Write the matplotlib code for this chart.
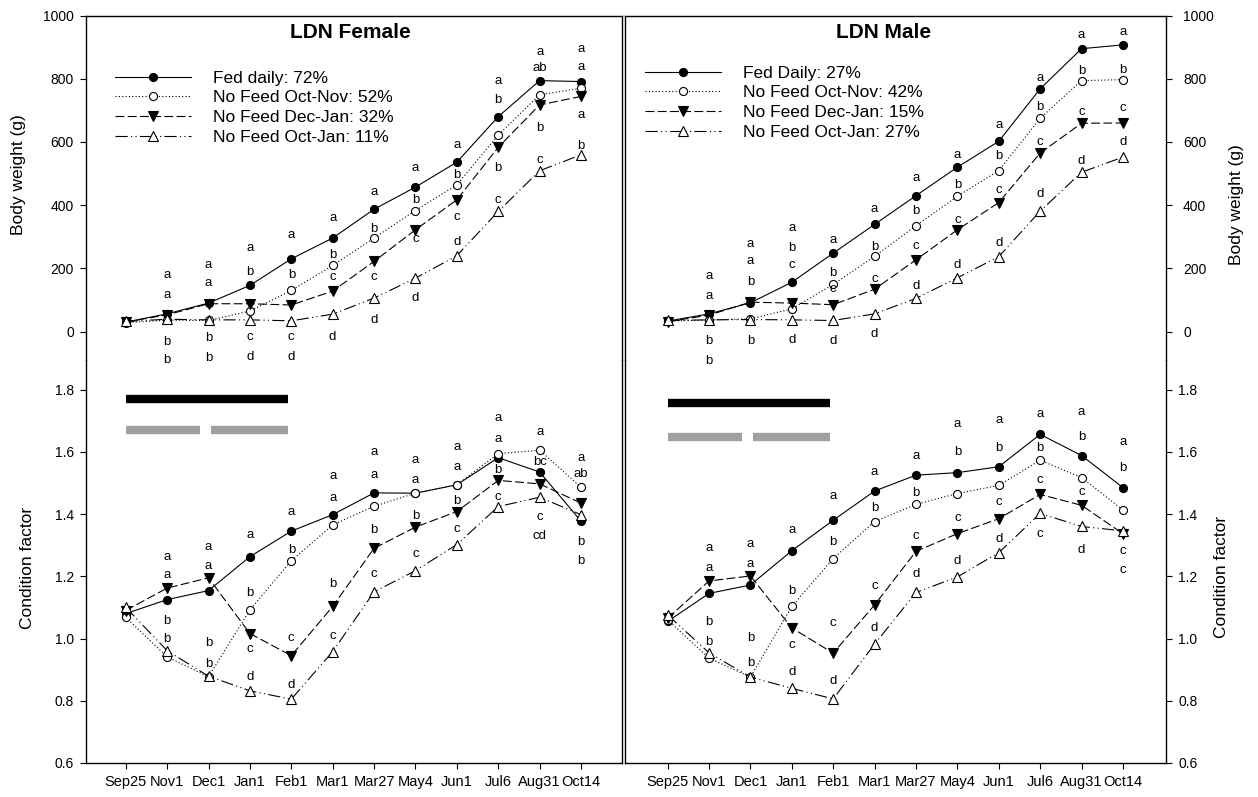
import matplotlib.pyplot as plt

plt.rcParams['font.family'] = ['Liberation Sans', 'DejaVu Sans']

dates = ['Sep25', 'Nov1', 'Dec1', 'Jan1', 'Feb1', 'Mar1', 'Mar27',
         'May4', 'Jun1', 'Jul6', 'Aug31', 'Oct14']

# body weight (g)
fem_bw_fed    = [30, 56, 90, 146, 230, 296, 387, 457, 536, 680, 794, 791]
fem_bw_octnov = [28, 36, 35, 65, 130, 209, 296, 383, 464, 622, 749, 770]
fem_bw_decjan = [30, 53, 88, 88, 84, 128, 222, 322, 417, 583, 717, 744]
fem_bw_octjan = [32, 39, 37, 37, 34, 55, 106, 169, 240, 380, 509, 559]

male_bw_fed    = [33, 56, 91, 156, 248, 339, 430, 520, 602, 768, 895, 907]
male_bw_octnov = [33, 37, 40, 72, 149, 238, 335, 428, 509, 675, 794, 797]
male_bw_decjan = [31, 52, 93, 90, 85, 134, 227, 322, 408, 565, 659, 660]
male_bw_octjan = [35, 37, 38, 37, 35, 56, 105, 170, 237, 381, 504, 552]

# condition factor
fem_cf_fed    = [1.080, 1.125, 1.154, 1.263, 1.345, 1.398, 1.468, 1.467, 1.494, 1.581, 1.535, 1.377]
fem_cf_octnov = [1.068, 0.941, 0.877, 1.092, 1.250, 1.365, 1.425, 1.467, 1.494, 1.594, 1.605, 1.486]
fem_cf_decjan = [1.090, 1.162, 1.195, 1.016, 0.945, 1.103, 1.290, 1.358, 1.408, 1.508, 1.497, 1.435]
fem_cf_octjan = [1.100, 0.961, 0.879, 0.832, 0.805, 0.958, 1.150, 1.218, 1.302, 1.424, 1.454, 1.398]

male_cf_fed    = [1.055, 1.145, 1.172, 1.282, 1.380, 1.474, 1.525, 1.533, 1.552, 1.656, 1.588, 1.485]
male_cf_octnov = [1.060, 0.937, 0.876, 1.103, 1.257, 1.376, 1.431, 1.466, 1.492, 1.573, 1.517, 1.413]
male_cf_decjan = [1.065, 1.185, 1.201, 1.034, 0.953, 1.108, 1.280, 1.337, 1.385, 1.463, 1.428, 1.337]
male_cf_octjan = [1.076, 0.954, 0.876, 0.840, 0.806, 0.982, 1.148, 1.198, 1.276, 1.402, 1.360, 1.346]

fem_labels = ['Fed daily: 72%', 'No Feed Oct-Nov: 52%',
              'No Feed Dec-Jan: 32%', 'No Feed Oct-Jan: 11%']
male_labels = ['Fed Daily: 27%', 'No Feed Oct-Nov: 42%',
               'No Feed Dec-Jan: 15%', 'No Feed Oct-Jan: 27%']

# significance letters: (date index, y, letter)
fem_bw_letters = [
    (1, 179, 'a'), (1, 116, 'a'), (1, -33, 'b'), (1, -90, 'b'),
    (2, 211, 'a'), (2, 154, 'a'), (2, -20, 'b'), (2, -83, 'b'),
    (3, 265, 'a'), (3, 189, 'b'), (3, -17, 'c'), (3, -80, 'd'),
    (4, 306, 'a'), (4, 179, 'b'), (4, -17, 'c'), (4, -80, 'd'),
    (5, 360, 'a'), (5, 243, 'b'), (5, 173, 'c'), (5, -17, 'd'),
    (6, 442, 'a'), (6, 325, 'b'), (6, 173, 'c'), (6, 37, 'd'),
    (7, 518, 'a'), (7, 417, 'b'), (7, 293, 'c'), (7, 107, 'd'),
    (8, 591, 'a'), (8, 496, 'b'), (8, 363, 'c'), (8, 284, 'd'),
    (9, 793, 'a'), (9, 733, 'b'), (9, 518, 'b'), (9, 417, 'c'),
    (10, 885, 'a'), (10, 835, 'ab'), (10, 645, 'b'), (10, 543, 'c'),
    (11, 895, 'a'), (11, 838, 'a'), (11, 685, 'a'), (11, 587, 'b'),
]
male_bw_letters = [
    (1, 177, 'a'), (1, 114, 'a'), (1, -31, 'b'), (1, -92, 'b'),
    (2, 277, 'a'), (2, 222, 'a'), (2, 158, 'b'), (2, -31, 'b'),
    (3, 328, 'a'), (3, 265, 'b'), (3, 209, 'c'), (3, -28, 'd'),
    (4, 290, 'a'), (4, 184, 'b'), (4, 135, 'c'), (4, -31, 'd'),
    (5, 388, 'a'), (5, 269, 'b'), (5, 167, 'c'), (5, -7, 'd'),
    (6, 485, 'a'), (6, 381, 'b'), (6, 270, 'c'), (6, 143, 'd'),
    (7, 560, 'a'), (7, 465, 'b'), (7, 354, 'c'), (7, 211, 'd'),
    (8, 655, 'a'), (8, 555, 'b'), (8, 449, 'c'), (8, 281, 'd'),
    (9, 803, 'a'), (9, 710, 'b'), (9, 599, 'c'), (9, 434, 'd'),
    (10, 939, 'a'), (10, 824, 'b'), (10, 694, 'c'), (10, 541, 'd'),
    (11, 949, 'a'), (11, 829, 'b'), (11, 708, 'c'), (11, 599, 'd'),
]
fem_cf_letters = [
    (1, 1.261, 'a'), (1, 1.205, 'a'), (1, 1.057, 'b'), (1, 0.998, 'b'),
    (2, 1.293, 'a'), (2, 1.234, 'a'), (2, 0.987, 'b'), (2, 0.918, 'b'),
    (3, 1.334, 'a'), (3, 1.146, 'b'), (3, 0.966, 'c'), (3, 0.875, 'd'),
    (4, 1.406, 'a'), (4, 1.285, 'b'), (4, 1.003, 'c'), (4, 0.850, 'd'),
    (5, 1.522, 'a'), (5, 1.452, 'a'), (5, 1.175, 'b'), (5, 1.009, 'c'),
    (6, 1.599, 'a'), (6, 1.526, 'a'), (6, 1.349, 'b'), (6, 1.207, 'c'),
    (7, 1.575, 'a'), (7, 1.510, 'a'), (7, 1.393, 'b'), (7, 1.272, 'c'),
    (8, 1.617, 'a'), (8, 1.551, 'a'), (8, 1.441, 'b'), (8, 1.352, 'c'),
    (9, 1.709, 'a'), (9, 1.640, 'a'), (9, 1.542, 'b'), (9, 1.454, 'c'),
    (10, 1.663, 'a'), (10, 1.567, 'bc'), (10, 1.389, 'c'), (10, 1.328, 'cd'),
    (11, 1.581, 'a'), (11, 1.529, 'ab'), (11, 1.309, 'b'), (11, 1.248, 'b'),
]
male_cf_letters = [
    (1, 1.290, 'a'), (1, 1.228, 'a'), (1, 1.052, 'b'), (1, 0.990, 'b'),
    (2, 1.305, 'a'), (2, 1.239, 'a'), (2, 1.001, 'b'), (2, 0.922, 'b'),
    (3, 1.348, 'a'), (3, 1.153, 'b'), (3, 0.979, 'c'), (3, 0.892, 'd'),
    (4, 1.458, 'a'), (4, 1.311, 'b'), (4, 1.050, 'c'), (4, 0.865, 'd'),
    (5, 1.535, 'a'), (5, 1.421, 'b'), (5, 1.169, 'c'), (5, 1.033, 'd'),
    (6, 1.588, 'a'), (6, 1.469, 'b'), (6, 1.328, 'c'), (6, 1.207, 'd'),
    (7, 1.688, 'a'), (7, 1.599, 'b'), (7, 1.386, 'c'), (7, 1.250, 'd'),
    (8, 1.702, 'a'), (8, 1.612, 'b'), (8, 1.439, 'c'), (8, 1.321, 'd'),
    (9, 1.722, 'a'), (9, 1.613, 'b'), (9, 1.509, 'c'), (9, 1.337, 'c'),
    (10, 1.727, 'a'), (10, 1.647, 'b'), (10, 1.471, 'c'), (10, 1.285, 'd'),
    (11, 1.631, 'a'), (11, 1.548, 'b'), (11, 1.282, 'c'), (11, 1.221, 'c'),
]

# feeding-withdrawal periods (date index start, end)
black_period = [(0.0, 3.92)]
grey_periods = [(0.0, 1.8), (2.07, 3.92)]

W, H = 1258, 797
fig = plt.figure(figsize=(W / 100, H / 100), dpi=100)


def px_rect(x0, x1, y0, y1):
    return [x0 / W, 1 - y1 / H, (x1 - x0) / W, (y1 - y0) / H]


LW = 0.8
series_style = [
    dict(ls='-', marker='o', ms=5.8, mfc='black'),
    dict(ls=(0, (1, 2)), marker='o', ms=5.8, mfc='white'),
    dict(ls=(0, (8, 3)), marker='v', ms=6.6, mfc='black'),
    dict(ls=(0, (11, 3, 1, 3, 1, 3)), marker='^', ms=6.6, mfc='white'),
]


def draw_panel(x0, x1, xlim, side, title, title_x, bw, cf, labels, leg_xy,
               bw_letters, cf_letters, bar_y, ypad_up):
    ax_up = fig.add_axes(px_rect(x0, x1, 15.5, 360))
    ax_lo = fig.add_axes(px_rect(x0, x1, 360, 763))
    ax_up.patch.set_visible(False)
    ax_lo.patch.set_visible(False)
    x = list(range(len(dates)))

    handles = []
    for vals, st in zip(bw, series_style):
        h, = ax_up.plot(x, vals, color='black', lw=LW, mec='black', mew=0.8,
                        clip_on=False, **st)
        handles.append(h)
    for vals, st in zip(cf, series_style):
        ax_lo.plot(x, vals, color='black', lw=LW, mec='black', mew=0.8,
                   clip_on=False, **st)

    for i, y, t in bw_letters:
        ax_up.text(i, y, t, ha='center', va='center', fontsize=9.5)
    for i, y, t in cf_letters:
        ax_lo.text(i, y, t, ha='center', va='center', fontsize=9.5)

    for a, b in black_period:
        ax_lo.plot([a, b], [bar_y[0]] * 2, color='black', lw=6,
                   solid_capstyle='butt')
    for a, b in grey_periods:
        ax_lo.plot([a, b], [bar_y[1]] * 2, color='#a0a0a0', lw=6,
                   solid_capstyle='butt')

    ax_up.set_ylim(-90, 1000)
    ax_up.set_yticks([0, 200, 400, 600, 800, 1000])
    ax_lo.set_ylim(0.6, 1.895)
    ax_lo.set_yticks([0.6, 0.8, 1.0, 1.2, 1.4, 1.6, 1.8])
    ax_lo.set_yticklabels(['%.1f' % v for v in ax_lo.get_yticks()])
    for ax in (ax_up, ax_lo):
        ax.set_xlim(*xlim)
        for s in ax.spines.values():
            s.set_linewidth(1.0)
    ax_up.spines['bottom'].set_visible(False)
    ax_lo.spines['top'].set_visible(False)
    ax_up.set_xticks([])
    ax_lo.set_xticks(x)
    ax_lo.set_xticklabels(dates)
    ax_lo.tick_params(axis='x', direction='out', length=4.3, width=0.8,
                      labelsize=10.5, pad=4.5)

    if side == 'right':
        for ax in (ax_up, ax_lo):
            ax.yaxis.tick_right()
    ax_up.tick_params(axis='y', direction='out', length=4.3, width=0.8,
                      labelsize=10, pad=ypad_up)
    ax_lo.tick_params(axis='y', direction='out', length=4.3, width=0.8,
                      labelsize=10, pad=4.5)

    ax_up.legend(handles, labels, loc='upper left',
                 bbox_to_anchor=(leg_xy[0] / W, 1 - leg_xy[1] / H),
                 bbox_transform=fig.transFigure, frameon=False, fontsize=12.5,
                 handlelength=4.4, handletextpad=1.22, labelspacing=0.27,
                 borderpad=0, borderaxespad=0, numpoints=1)

    fig.text(title_x / W, 1 - 33 / H, title, ha='center', va='center',
             fontsize=15, fontweight='bold')


draw_panel(86, 622, (-0.96, 11.99), 'left', 'LDN Female', 350,
           [fem_bw_fed, fem_bw_octnov, fem_bw_decjan, fem_bw_octjan],
           [fem_cf_fed, fem_cf_octnov, fem_cf_decjan, fem_cf_octjan],
           fem_labels, (115, 70.5), fem_bw_letters, fem_cf_letters,
           (1.769, 1.669), 4.5)
draw_panel(625, 1166, (-1.03, 12.04), 'right', 'LDN Male', 884,
           [male_bw_fed, male_bw_octnov, male_bw_decjan, male_bw_octjan],
           [male_cf_fed, male_cf_octnov, male_cf_decjan, male_cf_octjan],
           male_labels, (645, 65.5), male_bw_letters, male_cf_letters,
           (1.757, 1.648), 8)

fig.text(19 / W, 1 - 175 / H, 'Body weight (g)', rotation=90,
         ha='center', va='center', fontsize=12.5)
fig.text(28 / W, 1 - 568 / H, 'Condition factor', rotation=90,
         ha='center', va='center', fontsize=12.5)
fig.text(1236 / W, 1 - 205 / H, 'Body weight (g)', rotation=90,
         ha='center', va='center', fontsize=12.5)
fig.text(1222 / W, 1 - 577 / H, 'Condition factor', rotation=90,
         ha='center', va='center', fontsize=12.5)

fig.savefig('out.png', dpi=100)
